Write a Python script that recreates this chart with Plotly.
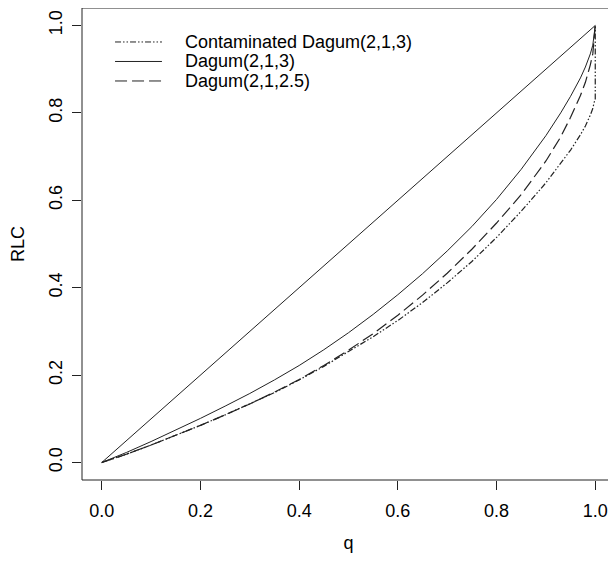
import plotly.graph_objects as go

# valores
q = [0, 0.05, 0.1, 0.15, 0.2, 0.25, 0.3, 0.35, 0.4, 0.45, 0.5, 0.55, 0.6, 0.65,
     0.7, 0.75, 0.8, 0.85, 0.9, 0.93, 0.95, 0.97, 0.98, 0.99, 0.995, 1.0]
dagum_213 = [0, 0.023, 0.048, 0.074, 0.101, 0.129, 0.158, 0.189, 0.222, 0.258, 0.297,
             0.339, 0.384, 0.432, 0.484, 0.540, 0.602, 0.671, 0.748, 0.800, 0.838,
             0.880, 0.905, 0.935, 0.955, 1.0]
dagum_2125 = [0, 0.019, 0.040, 0.062, 0.085, 0.109, 0.134, 0.161, 0.190, 0.222, 0.257,
              0.295, 0.337, 0.383, 0.433, 0.488, 0.548, 0.613, 0.690, 0.745, 0.790,
              0.840, 0.870, 0.910, 0.935, 1.0]
q_contam = [0, 0.05, 0.1, 0.15, 0.2, 0.25, 0.3, 0.35, 0.4, 0.45, 0.5, 0.55, 0.6, 0.65,
            0.7, 0.75, 0.8, 0.85, 0.9, 0.93, 0.95, 0.97, 0.98, 0.99, 0.995, 0.998,
            1.0, 1.0]
contam_213 = [0, 0.019, 0.040, 0.062, 0.085, 0.109, 0.134, 0.160, 0.189, 0.220, 0.254,
              0.288, 0.325, 0.366, 0.411, 0.460, 0.515, 0.575, 0.640, 0.685, 0.715,
              0.750, 0.770, 0.795, 0.810, 0.825, 0.830, 1.0]
igualdade = [0, 1]
nomes = ['Contaminated Dagum(2,1,3)', 'Dagum(2,1,3)', 'Dagum(2,1,2.5)']

cor = '#222222'
fonte = dict(family='Liberation Sans, Arial, sans-serif', size=18, color='black')
tracos = ['6px,2px,1.5px,2px,1.5px,2px', 'solid', '12px,5px']

fig = go.Figure()
fig.add_trace(go.Scatter(x=igualdade, y=igualdade, mode='lines',
                         line=dict(color=cor, width=1)))
fig.add_trace(go.Scatter(x=q_contam, y=contam_213, mode='lines', name=nomes[0],
                         line=dict(color=cor, width=1.2, dash=tracos[0])))
fig.add_trace(go.Scatter(x=q, y=dagum_213, mode='lines', name=nomes[1],
                         line=dict(color=cor, width=1, dash=tracos[1])))
fig.add_trace(go.Scatter(x=q, y=dagum_2125, mode='lines', name=nomes[2],
                         line=dict(color=cor, width=1.2, dash=tracos[2])))

# legenda no estilo do R
for i, nome in enumerate(nomes):
    yl = 0.928 - i * 0.0413
    fig.add_shape(type='line', xref='paper', yref='paper', x0=0.062, x1=0.150,
                  y0=yl, y1=yl, line=dict(color=cor, width=1, dash=tracos[i]))
    fig.add_annotation(text=nome, xref='paper', yref='paper', x=0.189, y=yl,
                       xanchor='left', yanchor='middle', showarrow=False, font=fonte)

eixo = dict(range=[-0.04, 1.04], tickvals=[0, 0.2, 0.4, 0.6, 0.8, 1.0],
            ticktext=['0.0', '0.2', '0.4', '0.6', '0.8', '1.0'],
            ticks='outside', ticklen=9, tickcolor=cor, showgrid=False,
            zeroline=False, showline=False, tickfont=fonte, automargin=False)
fig.update_xaxes(**eixo, title=dict(text='q', font=fonte, standoff=16),
                 ticklabelstandoff=5)
fig.update_yaxes(**eixo, title=dict(text='RLC', font=fonte, standoff=24),
                 tickangle=-90, ticklabelstandoff=3)
fig.add_shape(type='rect', xref='paper', yref='paper', x0=0, y0=0, x1=1, y1=1,
              line=dict(color=cor, width=1))
fig.update_layout(autosize=False, width=608, height=555, showlegend=False,
                  margin=dict(l=74, r=1, t=0, b=83),
                  plot_bgcolor='white', paper_bgcolor='white', font=fonte)
fig.write_html('out.html')
